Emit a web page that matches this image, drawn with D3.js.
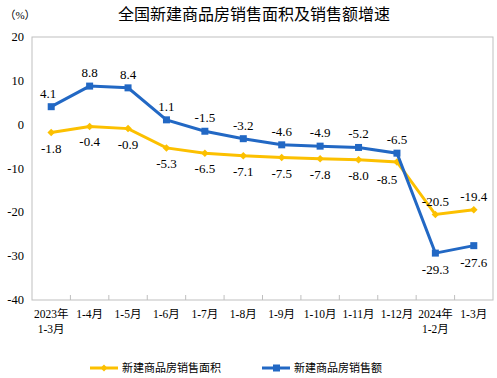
<!DOCTYPE html>
<html>
<head>
<meta charset="utf-8">
<script src="https://cdn.jsdelivr.net/npm/d3@7"></script>
<style>
  body { margin: 0; background: #fff; }
  svg text { font-family: "Liberation Serif", "Noto Sans CJK SC", serif; fill: #000; }
</style>
</head>
<body>
<svg id="chart" width="497" height="378"></svg>
<script>
var categories = ["2023年\n1-3月", "1-4月", "1-5月", "1-6月", "1-7月", "1-8月", "1-9月", "1-10月", "1-11月", "1-12月", "2024年\n1-2月", "1-3月"];
var areaGrowth = [-1.8, -0.4, -0.9, -5.3, -6.5, -7.1, -7.5, -7.8, -8.0, -8.5, -20.5, -19.4];
var salesGrowth = [4.1, 8.8, 8.4, 1.1, -1.5, -3.2, -4.6, -4.9, -5.2, -6.5, -29.3, -27.6];
var yTicks = [20, 10, 0, -10, -20, -30, -40];
var seriesNames = ["新建商品房销售面积", "新建商品房销售额"];

var blue = "#2268c4", yellow = "#fcc000";

var svg = d3.select("#chart"),
  margin = { top: 37, right: 4, bottom: 78, left: 32 },
  width = +svg.attr("width") - margin.left - margin.right,
  height = +svg.attr("height") - margin.top - margin.bottom;

var x = d3.scaleBand().domain(categories).range([0, width]),
  y = d3.scaleLinear().domain([-40, 20]).range([height, 0]);

svg.append("text")
  .attr("x", 254).attr("y", 20)
  .attr("text-anchor", "middle")
  .style("font-family", "'Noto Sans CJK SC', sans-serif")
  .style("font-size", "16px")
  .text("全国新建商品房销售面积及销售额增速");

svg.append("text")
  .attr("x", 20).attr("y", 19)
  .attr("text-anchor", "middle")
  .style("font-size", "11px")
  .text("（%）");

var g = svg.append("g").attr("transform", "translate(" + margin.left + "," + margin.top + ")");

// plot frame
g.append("rect")
  .attr("width", width).attr("height", height)
  .attr("fill", "none").attr("stroke", "#bfbfbf").attr("stroke-width", 1);

// y labels
g.selectAll(".ylab").data(yTicks).enter().append("text")
  .attr("x", -8).attr("y", function(d) { return y(d) + 4; })
  .attr("text-anchor", "end")
  .style("font-size", "12.5px")
  .text(function(d) { return d; });

// inner ticks on category boundaries
g.selectAll(".xtick").data(categories.slice(1)).enter().append("line")
  .attr("x1", function(d) { return x(d); }).attr("x2", function(d) { return x(d); })
  .attr("y1", height).attr("y2", height - 5)
  .attr("stroke", "#bfbfbf");

// category labels
var catLab = g.selectAll(".xlab").data(categories).enter().append("text")
  .attr("text-anchor", "middle")
  .attr("transform", function(d) { return "translate(" + (x(d) + x.bandwidth() / 2) + "," + (height + 18) + ")"; })
  .style("font-size", "11.5px");
catLab.selectAll("tspan").data(function(d) { return d.split("\n"); }).enter().append("tspan")
  .attr("x", 0).attr("dy", function(d, i) { return i ? 15 : 0; })
  .text(function(d) { return d; });

var cx = function(d, i) { return x(categories[i]) + x.bandwidth() / 2; };
var line = d3.line().x(function(d, i) { return cx(d, i); }).y(function(d) { return y(d); });

// area series (yellow, diamonds)
g.append("path").datum(areaGrowth)
  .attr("d", line).attr("fill", "none").attr("stroke", yellow).attr("stroke-width", 3);
g.selectAll(".dia").data(areaGrowth).enter().append("path")
  .attr("d", d3.symbol().type(d3.symbolDiamond2).size(36))
  .attr("transform", function(d, i) { return "translate(" + cx(d, i) + "," + y(d) + ")"; })
  .attr("fill", yellow);

// sales series (blue, squares)
g.append("path").datum(salesGrowth)
  .attr("d", line).attr("fill", "none").attr("stroke", blue).attr("stroke-width", 3);
g.selectAll(".sq").data(salesGrowth).enter().append("rect")
  .attr("x", function(d, i) { return cx(d, i) - 3.5; })
  .attr("y", function(d) { return y(d) - 3.5; })
  .attr("width", 7).attr("height", 7)
  .attr("fill", blue);

// value labels
var n = categories.length;
g.selectAll(".alab").data(areaGrowth).enter().append("text")
  .attr("text-anchor", "middle")
  .attr("x", function(d, i) { return cx(d, i) + (i === 9 ? -10 : 0); })
  .attr("y", function(d, i) { return y(d) + (i >= n - 2 ? -9 : (i === 9 ? 22 : 20)); })
  .style("font-size", "13px")
  .text(function(d) { return d.toFixed(1); });

g.selectAll(".slab").data(salesGrowth).enter().append("text")
  .attr("text-anchor", "middle")
  .attr("x", function(d, i) { return cx(d, i) - (i === 0 ? 3 : 0); })
  .attr("y", function(d, i) { return y(d) + (i >= n - 2 ? 21 : -9); })
  .style("font-size", "13px")
  .text(function(d) { return d.toFixed(1); });

// legend
var legend = svg.append("g").attr("transform", "translate(0,368)");
[[yellow, 90], [blue, 262]].forEach(function(s, k) {
  legend.append("line").attr("x1", s[1]).attr("x2", s[1] + 28)
    .attr("stroke", s[0]).attr("stroke-width", 3);
  if (k === 0) {
    legend.append("path").attr("d", d3.symbol().type(d3.symbolDiamond2).size(30))
      .attr("transform", "translate(" + (s[1] + 14) + ",0)").attr("fill", s[0]);
  } else {
    legend.append("rect").attr("x", s[1] + 11).attr("y", -3.5).attr("width", 7).attr("height", 7).attr("fill", s[0]);
  }
  legend.append("text").attr("x", s[1] + 32).attr("y", 4)
    .style("font-size", "11px")
    .text(seriesNames[k]);
});
</script>
</body>
</html>
